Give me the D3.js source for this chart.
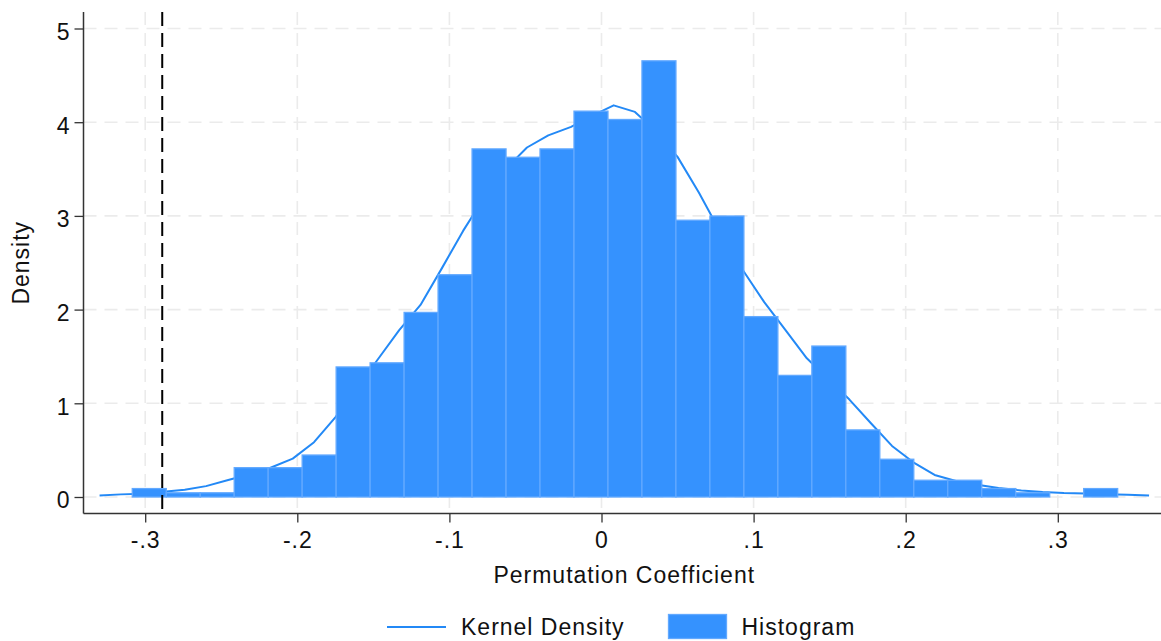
<!DOCTYPE html>
<html>
<head>
<meta charset="utf-8">
<script src="https://cdn.jsdelivr.net/npm/d3@7"></script>
<style>
  html, body { margin: 0; padding: 0; background: #fff; }
  svg { display: block; font-family: "Liberation Sans", Arial, Helvetica, sans-serif; }
</style>
</head>
<body>
<svg id="chart" width="1161" height="641"></svg>
<script>
// ---------- data ----------
const binStart = -0.3085;
const binWidth = 0.02234;
const histDensity = [0.090, 0.045, 0.045, 0.313, 0.313, 0.448, 1.388, 1.432, 1.970, 2.372,
                     3.715, 3.626, 3.715, 4.118, 4.029, 4.655, 2.954, 2.999, 1.925, 1.298,
                     1.611, 0.716, 0.403, 0.179, 0.179, 0.090, 0.045, 0.000, 0.090];
const kdeX = [-0.330, -0.316, -0.302, -0.288, -0.274, -0.260, -0.246, -0.232, -0.218, -0.203,
              -0.189, -0.175, -0.161, -0.147, -0.133, -0.119, -0.105, -0.091, -0.077, -0.063,
              -0.049, -0.035, -0.020, -0.006, 0.008, 0.022, 0.036, 0.050, 0.064, 0.078,
              0.093, 0.107, 0.121, 0.135, 0.149, 0.163, 0.177, 0.191, 0.205, 0.219,
              0.233, 0.247, 0.261, 0.276, 0.290, 0.304, 0.318, 0.332, 0.346, 0.360];
const kdeY = [0.017, 0.028, 0.036, 0.055, 0.078, 0.116, 0.178, 0.240, 0.310, 0.410,
              0.585, 0.850, 1.160, 1.470, 1.780, 2.050, 2.440, 2.840, 3.200, 3.500,
              3.730, 3.860, 3.950, 4.070, 4.180, 4.110, 3.900, 3.630, 3.250, 2.830,
              2.420, 2.080, 1.780, 1.480, 1.260, 1.040, 0.790, 0.545, 0.370, 0.235,
              0.170, 0.130, 0.095, 0.070, 0.053, 0.042, 0.037, 0.030, 0.024, 0.017];
const xTicks = [-0.3, -0.2, -0.1, 0, 0.1, 0.2, 0.3];
const xTickLabels = ["-.3", "-.2", "-.1", "0", ".1", ".2", ".3"];
const yTicks = [0, 1, 2, 3, 4, 5];
const refLineX = -0.2888;
const xTitle = "Permutation Coefficient";
const yTitle = "Density";
const legendLabels = ["Kernel Density", "Histogram"];

// ---------- layout ----------
const svg = d3.select("#chart");
const plotLeft = 83.5, plotRight = 1161, plotTop = 12, plotBottom = 513.5;
const x = d3.scaleLinear().domain([-0.3, 0.3]).range([145.2, 1057.8]);
const y = d3.scaleLinear().domain([0, 5]).range([497, 28.5]);

const barFill = "#3592fe";
const barStroke = "#62a9ff";
const lineColor = "#2389f6";
const gridColor = "#ebebeb";
const fontSize = 23;
const spacing = "1px";

// gridlines
const grid = svg.append("g");
grid.selectAll("line.hg").data(yTicks).enter().append("line")
  .attr("x1", plotLeft).attr("x2", plotRight)
  .attr("y1", d => y(d)).attr("y2", d => y(d))
  .attr("stroke", gridColor).attr("stroke-width", 1.6).attr("stroke-dasharray", "13,8");
grid.selectAll("line.vg").data(xTicks).enter().append("line")
  .attr("x1", d => x(d)).attr("x2", d => x(d))
  .attr("y1", plotTop).attr("y2", plotBottom)
  .attr("stroke", gridColor).attr("stroke-width", 1.6).attr("stroke-dasharray", "13,8");

// kernel density
const line = d3.line().x((d, i) => x(kdeX[i])).y(d => y(d));
svg.append("path").datum(kdeY)
  .attr("d", line).attr("fill", "none")
  .attr("stroke", lineColor).attr("stroke-width", 2).attr("stroke-linejoin", "round");

// histogram
svg.append("g").selectAll("rect").data(histDensity).enter().append("rect")
  .attr("x", (d, i) => x(binStart + i * binWidth))
  .attr("width", (d, i) => x(binStart + (i + 1) * binWidth) - x(binStart + i * binWidth))
  .attr("y", d => y(d))
  .attr("height", d => y(0) - y(d))
  .attr("fill", barFill)
  .attr("stroke", d => d > 0 ? barStroke : "none")
  .attr("stroke-width", 1.3);

// reference line
svg.append("line")
  .attr("x1", x(refLineX)).attr("x2", x(refLineX))
  .attr("y1", plotTop).attr("y2", plotBottom)
  .attr("stroke", "#000").attr("stroke-width", 2).attr("stroke-dasharray", "14,7");

// axes
const xAxis = d3.axisBottom(x).tickValues(xTicks).tickSize(9).tickPadding(9.5)
  .tickFormat((d, i) => xTickLabels[i]);
const gx = svg.append("g").attr("transform", `translate(0,${plotBottom})`).call(xAxis);
gx.select(".domain").remove();
gx.selectAll("line").attr("stroke", "#333").attr("stroke-width", 1.3);
gx.selectAll("text").attr("font-size", fontSize).attr("fill", "#111")
  .attr("letter-spacing", spacing)
  .attr("font-family", "Liberation Sans, Arial, sans-serif");
svg.append("line").attr("x1", plotLeft).attr("x2", plotRight)
  .attr("y1", plotBottom).attr("y2", plotBottom).attr("stroke", "#333").attr("stroke-width", 1.5);

const yAxis = d3.axisLeft(y).tickValues(yTicks).tickSize(9).tickPadding(5).tickFormat(d3.format("d"));
const gy = svg.append("g").attr("transform", `translate(${plotLeft},0)`).call(yAxis);
gy.select(".domain").remove();
gy.selectAll("line").attr("stroke", "#333").attr("stroke-width", 1.3);
gy.selectAll("text").attr("font-size", fontSize).attr("fill", "#111").attr("dy", "0.47em")
  .attr("font-family", "Liberation Sans, Arial, sans-serif");
svg.append("line").attr("x1", plotLeft).attr("x2", plotLeft)
  .attr("y1", plotTop).attr("y2", plotBottom).attr("stroke", "#333").attr("stroke-width", 1.5);

// titles
svg.append("text").attr("x", (plotLeft + plotRight) / 2 + 2).attr("y", 583)
  .attr("text-anchor", "middle").attr("font-size", fontSize).attr("letter-spacing", spacing)
  .attr("fill", "#111").text(xTitle);
svg.append("text").attr("transform", `translate(29,${(plotTop + plotBottom) / 2}) rotate(-90)`)
  .attr("text-anchor", "middle").attr("font-size", fontSize).attr("letter-spacing", spacing)
  .attr("fill", "#111").text(yTitle);

// legend
const lg = svg.append("g");
lg.append("line").attr("x1", 387).attr("x2", 446).attr("y1", 627).attr("y2", 627)
  .attr("stroke", lineColor).attr("stroke-width", 2);
lg.append("text").attr("x", 461).attr("y", 635).attr("font-size", fontSize).attr("letter-spacing", spacing)
  .attr("fill", "#111").text(legendLabels[0]);
lg.append("rect").attr("x", 668.5).attr("y", 614.5).attr("width", 58).attr("height", 24)
  .attr("fill", barFill).attr("stroke", barStroke).attr("stroke-width", 1.3);
lg.append("text").attr("x", 741.5).attr("y", 635).attr("font-size", fontSize).attr("letter-spacing", spacing)
  .attr("fill", "#111").text(legendLabels[1]);
</script>
</body>
</html>
